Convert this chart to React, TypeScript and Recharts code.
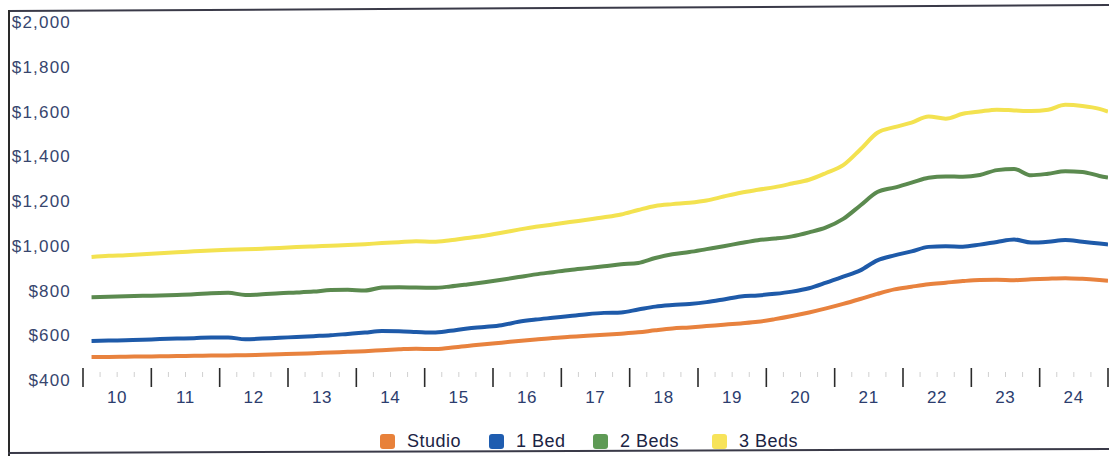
import { Line, LineChart, XAxis, YAxis } from 'recharts';

// time in years (10 = 2010), quarterly mid-points
const PERIODS = [
  10.125, 10.375, 10.625, 10.875, 11.125, 11.375, 11.625, 11.875, 12.125, 12.375, 12.625, 12.875,
  13.125, 13.375, 13.625, 13.875, 14.125, 14.375, 14.625, 14.875, 15.125, 15.375, 15.625, 15.875,
  16.125, 16.375, 16.625, 16.875, 17.125, 17.375, 17.625, 17.875, 18.125, 18.375, 18.625, 18.875,
  19.125, 19.375, 19.625, 19.875, 20.125, 20.375, 20.625, 20.875, 21.125, 21.375, 21.625, 21.875,
  22.125, 22.375, 22.625, 22.875, 23.125, 23.375, 23.625, 23.875, 24.125, 24.375, 24.625, 24.875, 25,
];

const STUDIO = [
  503, 503, 504, 505, 506, 507, 508, 509, 510, 511, 513, 515,
  517, 520, 523, 526, 529, 533, 537, 540, 538, 544, 552, 560,
  567, 574, 581, 588, 593, 598, 602, 607, 613, 622, 630, 635,
  641, 647, 653, 660, 672, 686, 702, 720, 740, 762, 785, 805,
  817, 828, 835, 842, 847, 848, 846, 850, 853, 855, 852, 847, 844,
];

const ONE_BED = [
  574, 576, 578, 580, 583, 585, 587, 590, 590, 582, 585, 589,
  592, 596, 600, 606, 612, 619, 618, 615, 612, 620, 630, 637,
  645, 660, 670, 678, 686, 694, 700, 702, 715, 728, 735, 740,
  748, 760, 773, 778, 785, 795, 810, 835, 862, 890, 935, 957,
  975, 995, 998, 996, 1005, 1017, 1028, 1014, 1018, 1026, 1018, 1010, 1006,
];

const TWO_BEDS = [
  770, 772, 774, 776, 778, 780, 783, 788, 790, 780, 783, 788,
  791, 795, 802, 803, 800, 813, 815, 813, 812, 818, 827, 837,
  848, 860, 872, 882, 892, 900, 908, 917, 923, 945, 962, 972,
  985, 998, 1012, 1025, 1032, 1042, 1060, 1082, 1120, 1180, 1240, 1260,
  1282, 1304, 1310, 1308, 1316, 1338, 1343, 1315, 1322, 1333, 1330, 1312, 1305,
];

const THREE_BEDS = [
  950, 955, 958, 962, 966, 971, 975, 979, 982, 984, 987, 990,
  994, 997, 1000, 1003, 1007, 1012, 1016, 1020, 1018, 1025, 1035, 1045,
  1058, 1072, 1085, 1095, 1106, 1116, 1127, 1140, 1160, 1178, 1186, 1192,
  1202, 1220, 1237, 1250, 1262, 1278, 1295, 1325, 1360, 1430, 1505, 1530,
  1550, 1578, 1568, 1590, 1600, 1608, 1605, 1602, 1608, 1630, 1625, 1612, 1600,
];

const YEAR_TICKS = [10, 11, 12, 13, 14, 15, 16, 17, 18, 19, 20, 21, 22, 23, 24, 25];
const MINOR_TICKS = YEAR_TICKS.slice(0, -1).flatMap((y) => [y + 0.25, y + 0.5, y + 0.75]);
const PRICE_TICKS = [400, 600, 800, 1000, 1200, 1400, 1600, 1800, 2000];

const SERIES = [
  { key: 'studio', name: 'Studio', color: '#e8823e', swatch: '#e8813a', left: 380 },
  { key: 'oneBed', name: '1 Bed', color: '#1e5aa9', swatch: '#1f5db0', left: 489 },
  { key: 'twoBeds', name: '2 Beds', color: '#5b8a4f', swatch: '#5e9a55', left: 593 },
  { key: 'threeBeds', name: '3 Beds', color: '#f3e250', swatch: '#f7e35a', left: 712 },
];

const data = PERIODS.map((t, i) => ({
  t,
  studio: STUDIO[i],
  oneBed: ONE_BED[i],
  twoBeds: TWO_BEDS[i],
  threeBeds: THREE_BEDS[i],
}));

const FONT = '"Liberation Sans", Arial, sans-serif';

function YearTick({ x, y, payload }: { x: number; y: number; payload: { value: number } }) {
  const v = payload.value;
  const major = Number.isInteger(v);
  if (!major) {
    return <line x1={x} x2={x} y1={y - 8} y2={y - 3} stroke="#d0d0d0" strokeWidth={1} />;
  }
  return (
    <g>
      <line x1={x} x2={x} y1={y - 12} y2={y + 7} stroke="#2b2b2b" strokeWidth={1.6} />
      {v < 25 && (
        <text
          x={x + 34}
          y={y + 23}
          textAnchor="middle"
          fill="#2c3d6e"
          fontSize={17}
          fontFamily={FONT}
          letterSpacing={0.6}
        >
          {v}
        </text>
      )}
    </g>
  );
}

function PriceTick({ x, y, payload }: { x: number; y: number; payload: { value: number } }) {
  return (
    <text
      x={x}
      y={y}
      dy="0.36em"
      textAnchor="end"
      fill="#37466e"
      fontSize={17}
      fontFamily={FONT}
      letterSpacing={1.2}
    >
      {`$${payload.value.toLocaleString('en-US')}`}
    </text>
  );
}

export default function App() {
  return (
    <div
      style={{
        position: 'relative',
        width: 1109,
        height: 456,
        overflow: 'hidden',
        background: '#fff',
        fontFamily: FONT,
      }}
    >
      <style>{'body{margin:0}'}</style>
      <LineChart width={1109} height={456} data={data} margin={{ top: 22, right: 1, left: 10, bottom: 46 }}>
        <XAxis
          dataKey="t"
          type="number"
          domain={[10, 25]}
          ticks={[...YEAR_TICKS, ...MINOR_TICKS]}
          interval={0}
          axisLine={false}
          tickLine={false}
          tickSize={0}
          tickMargin={0}
          height={30}
          tick={YearTick as never}
          allowDataOverflow
        />
        <YAxis
          type="number"
          domain={[400, 2000]}
          ticks={PRICE_TICKS}
          interval={0}
          width={73}
          axisLine={false}
          tickLine={false}
          tickSize={0}
          tickMargin={12}
          tick={PriceTick as never}
        />
        {SERIES.map((s) => (
          <Line
            key={s.key}
            type="monotone"
            dataKey={s.key}
            name={s.name}
            stroke={s.color}
            strokeWidth={4}
            dot={false}
            isAnimationActive={false}
          />
        ))}
      </LineChart>

      {/* scanned frame */}
      <svg width={1109} height={456} style={{ position: 'absolute', left: 0, top: 0, pointerEvents: 'none' }}>
        <line x1={8} y1={11} x2={1109} y2={5} stroke="#3a3a48" strokeWidth={2} />
        <line x1={9} y1={10} x2={9} y2={456} stroke="#2a2a2a" strokeWidth={2} />
        <line x1={8} y1={453} x2={1109} y2={449} stroke="#3a3a48" strokeWidth={2} />
      </svg>

      {SERIES.map((s) => (
        <div
          key={s.key}
          style={{
            position: 'absolute',
            left: s.left,
            top: 431,
            display: 'flex',
            alignItems: 'center',
            fontSize: 18,
            letterSpacing: 0.5,
            color: '#1b2444',
          }}
        >
          <span
            style={{
              display: 'inline-block',
              width: 15,
              height: 15,
              borderRadius: 3,
              background: s.swatch,
              marginRight: 12,
            }}
          />
          <span>{s.name}</span>
        </div>
      ))}
    </div>
  );
}
